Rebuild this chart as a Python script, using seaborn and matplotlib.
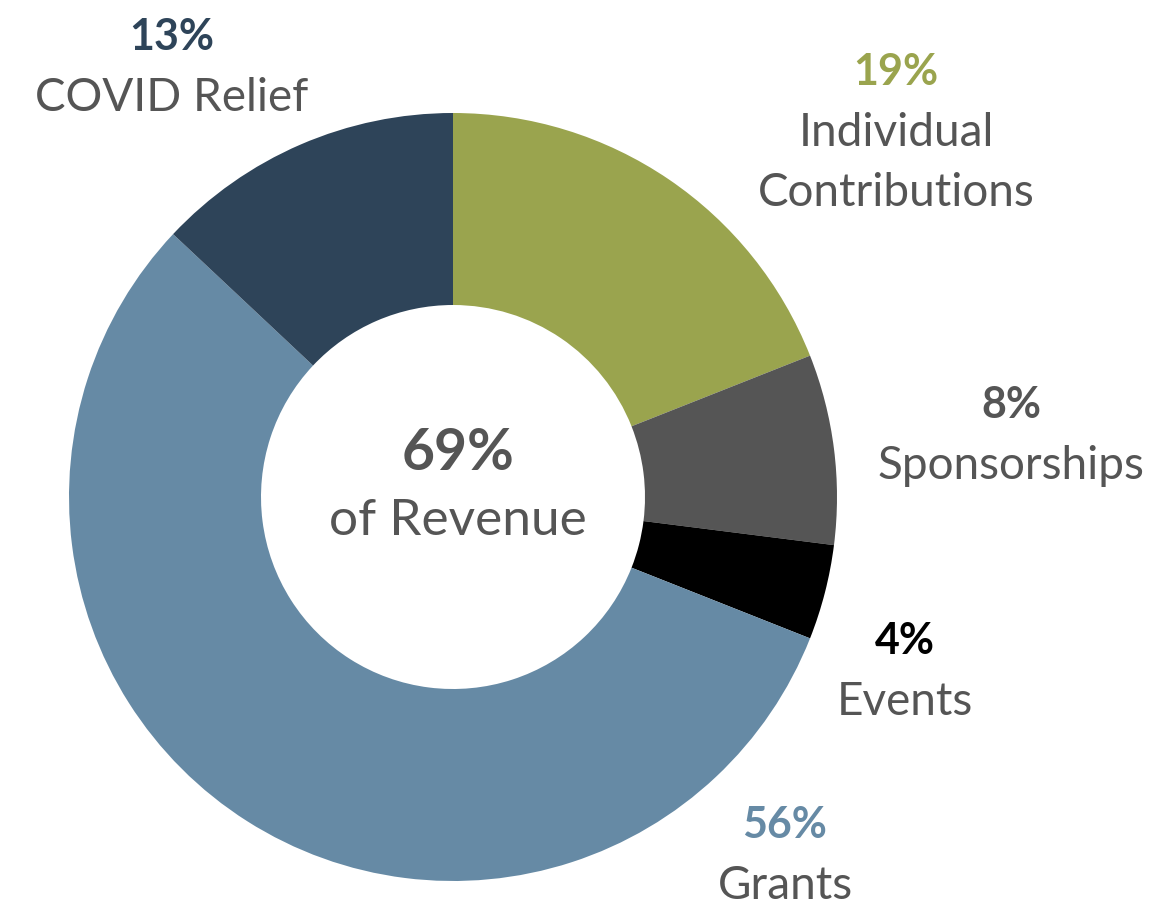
import seaborn as sns
import matplotlib.pyplot as plt

# Revenue breakdown (clockwise from top)
categories = ['Individual\nContributions', 'Sponsorships', 'Events', 'Grants', 'COVID Relief']
shares = [19, 8, 4, 56, 13]
colors = ['#9aa44e', '#555555', '#000000', '#668aa5', '#2e4459']
pct_labels = ['19%', '8%', '4%', '56%', '13%']

sns.set_theme(style='white')
plt.rcParams['font.family'] = ['Lato', 'DejaVu Sans']

W, H = 1169, 909
fig = plt.figure(figsize=(W / 100, H / 100), dpi=100)
ax = fig.add_axes([0, 0, 1, 1])

cx, cy, R = 453, H - 497, 384
ax.pie(shares, colors=colors, startangle=90, counterclock=False,
       center=(cx, cy), radius=R, frame=True,
       wedgeprops=dict(width=R * 0.5, linewidth=0))
ax.set_xlim(0, W)
ax.set_ylim(0, H)
ax.set_aspect('auto')
ax.axis('off')

gray = '#555555'
# label anchors (x center, baseline of percent line) in pixels from top
anchors = [(896, 85), (1011, 418), (905, 654), (785, 838), (172, 50)]
for (x, y), pct, name, col in zip(anchors, pct_labels, categories, colors):
    ax.text(x, H - y, pct, ha='center', va='baseline', fontsize=31,
            fontweight='bold', color=col)
    for i, line in enumerate(name.split('\n')):
        ax.text(x, H - (y + 61 + 60 * i), line, ha='center', va='baseline',
                fontsize=33, color=gray)

ax.text(458, H - 470, '69%', ha='center', va='baseline', fontsize=41,
        fontweight='bold', color=gray)
ax.text(458, H - 535, 'of Revenue', ha='center', va='baseline', fontsize=37,
        color=gray)

fig.savefig('out.png', dpi=100, facecolor='white')
